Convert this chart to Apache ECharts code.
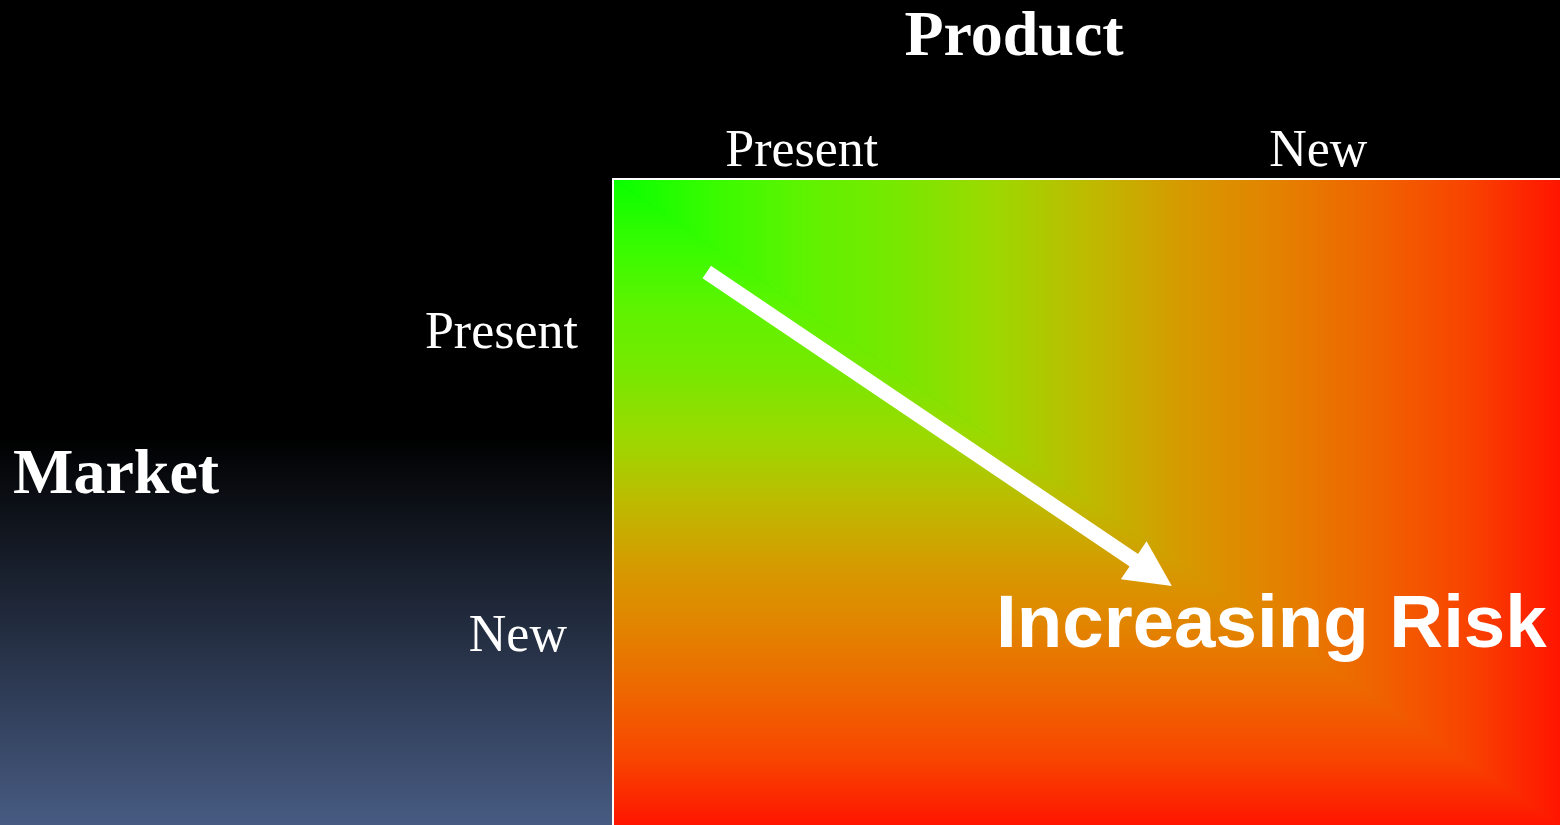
<!DOCTYPE html>
<html>
<head>
<meta charset="utf-8">
<title>Product / Market Risk Matrix</title>
<script src="https://cdn.jsdelivr.net/npm/echarts@6/dist/echarts.min.js"></script>
<style>
  html, body { margin: 0; padding: 0; background: #000; }
  #chart { width: 1560px; height: 825px; }
</style>
</head>
<body>
<div id="chart"></div>
<script>
// Matrix categories
const productLabels = ['Present', 'New'];
const marketLabels = ['Present', 'New'];
// Matrix cells as [product index, market index]
const cells = [[0, 0], [1, 0], [0, 1], [1, 1]];
// Risk arrow, in fractions of the matrix (0..1 across, 0..1 down)
const riskArrow = [[0.099, 0.144], [0.570, 0.610]];
// Text
const productTitle = 'Product';
const marketTitle = 'Market';
const riskText = 'Increasing Risk';
// Risk colour scale, low (green) to high (red)
const riskStops = [
  [0.00, '#08ff00'], [0.10, '#36fc00'], [0.20, '#5ef300'], [0.30, '#78e800'],
  [0.40, '#9cd900'], [0.50, '#bdbb00'], [0.60, '#d69a00'], [0.70, '#e38200'],
  [0.80, '#ef6500'], [0.90, '#f84400'], [1.00, '#ff1500']
];

const SERIF = '"Liberation Serif", "Times New Roman", serif';
const SANS = '"Liberation Sans", Arial, sans-serif';

const colorStops = riskStops.map(function (s) { return { offset: s[0], color: s[1] }; });

// Keep the part of a polygon where sign * f(p) >= 0
function clipPolygon(poly, f, sign) {
  const out = [];
  for (let i = 0; i < poly.length; i++) {
    const a = poly[i], b = poly[(i + 1) % poly.length];
    const fa = sign * f(a), fb = sign * f(b);
    if (fa >= 0) out.push(a);
    if ((fa >= 0) !== (fb >= 0)) {
      const t = fa / (fa - fb);
      out.push([a[0] + t * (b[0] - a[0]), a[1] + t * (b[1] - a[1])]);
    }
  }
  return out;
}

// Each cell takes its share of a rectangular gradient that grows from the
// top-left corner: risk = max(across, down).
function renderCell(params, api) {
  const cs = params.coordSys;
  const c = api.coord([api.value(0), api.value(1)]);
  const s = api.size([1, 1]);
  const x0 = c[0] - s[0] / 2, x1 = c[0] + s[0] / 2;
  const y0 = c[1] - s[1] / 2, y1 = c[1] + s[1] / 2;
  const rect = [[x0, y0], [x1, y0], [x1, y1], [x0, y1]];
  const f = function (p) { return (p[0] - cs.x) / cs.width - (p[1] - cs.y) / cs.height; };
  const across = new echarts.graphic.LinearGradient(cs.x, 0, cs.x + cs.width, 0, colorStops, true);
  const down = new echarts.graphic.LinearGradient(0, cs.y, 0, cs.y + cs.height, colorStops, true);
  const children = [];
  const upper = clipPolygon(rect, f, 1);
  const lower = clipPolygon(rect, f, -1);
  if (upper.length >= 3) {
    children.push({ type: 'polygon', shape: { points: upper },
      style: { fill: across, stroke: across, lineWidth: 1 } });
  }
  if (lower.length >= 3) {
    children.push({ type: 'polygon', shape: { points: lower },
      style: { fill: down, stroke: down, lineWidth: 1 } });
  }
  return { type: 'group', children: children };
}

const chart = echarts.init(document.getElementById('chart'), null, { renderer: 'canvas' });

const option = {
  animation: false,
  backgroundColor: {
    type: 'linear', x: 0, y: 0, x2: 0, y2: 1,
    colorStops: [
      { offset: 0, color: '#000000' },
      { offset: 0.53, color: '#000000' },
      { offset: 1, color: '#475b82' }
    ]
  },
  grid: { left: 613, top: 179, right: 0, bottom: 0, containLabel: false },
  xAxis: [
    {
      type: 'category',
      data: productLabels,
      position: 'top',
      z: 10,
      axisLine: { show: true, onZero: false, lineStyle: { color: '#ffffff', width: 2 } },
      axisTick: { show: false },
      splitLine: { show: false },
      axisLabel: {
        margin: 1,
        formatter: function (v, i) { return '{p' + i + '|' + v + '}'; },
        rich: {
          p0: { fontFamily: SERIF, fontSize: 52, color: '#ffffff', padding: [0, 96, 0, 0] },
          p1: { fontFamily: SERIF, fontSize: 52, color: '#ffffff', padding: [0, 10, 0, 0] }
        }
      }
    },
    { type: 'value', min: 0, max: 1, show: false }
  ],
  yAxis: [
    {
      type: 'category',
      data: marketLabels,
      inverse: true,
      position: 'left',
      z: 10,
      axisLine: { show: true, onZero: false, lineStyle: { color: '#ffffff', width: 2 } },
      axisTick: { show: false },
      splitLine: { show: false },
      axisLabel: {
        margin: 35,
        formatter: function (v, i) { return '{m' + i + '|' + v + '}'; },
        rich: {
          m0: { fontFamily: SERIF, fontSize: 52, color: '#ffffff', padding: [0, 0, 12, 0] },
          m1: { fontFamily: SERIF, fontSize: 52, color: '#ffffff', padding: [0, 11, 52, 0] }
        }
      }
    },
    { type: 'value', min: 0, max: 1, inverse: true, show: false }
  ],
  series: [
    {
      type: 'custom',
      name: 'Risk',
      xAxisIndex: 0,
      yAxisIndex: 0,
      renderItem: renderCell,
      data: cells,
      silent: true,
      z: 2
    },
    {
      type: 'lines',
      coordinateSystem: 'cartesian2d',
      xAxisIndex: 1,
      yAxisIndex: 1,
      symbol: ['none', 'triangle'],
      symbolSize: 46,
      lineStyle: { color: '#ffffff', width: 15, opacity: 1, curveness: 0, cap: 'butt' },
      data: [{ coords: riskArrow }],
      silent: true,
      z: 5
    }
  ],
  graphic: [
    {
      type: 'text', x: 1014, y: 38, z: 20, silent: true,
      style: { text: productTitle, fill: '#ffffff', font: 'bold 64px ' + SERIF,
        align: 'center', verticalAlign: 'middle', textAlign: 'center', textVerticalAlign: 'middle' }
    },
    {
      type: 'text', x: 13, y: 476, z: 20, silent: true,
      style: { text: marketTitle, fill: '#ffffff', font: 'bold 64px ' + SERIF,
        align: 'left', verticalAlign: 'middle', textAlign: 'left', textVerticalAlign: 'middle' }
    },
    {
      type: 'text', x: 996, y: 626, z: 20, silent: true,
      style: { text: riskText, fill: '#ffffff', font: 'bold 74.5px ' + SANS,
        align: 'left', verticalAlign: 'middle', textAlign: 'left', textVerticalAlign: 'middle' }
    }
  ]
};

chart.setOption(option);
</script>
</body>
</html>
